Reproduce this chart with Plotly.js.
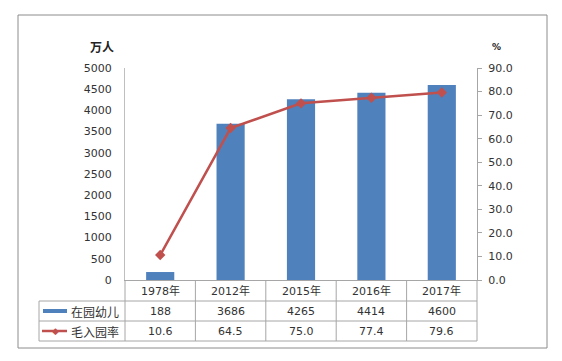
<!DOCTYPE html>
<html>
<head>
<meta charset="utf-8">
<script src="https://cdn.plot.ly/plotly-3.0.1.min.js"></script>
<style>html,body{margin:0;padding:0;background:#fff;}#chart{width:562px;height:361px;}</style>
</head>
<body>
<div id="chart"></div>
<script>
const categories = ["1978年", "2012年", "2015年", "2016年", "2017年"];
const enrolled = [188, 3686, 4265, 4414, 4600];          // 在园幼儿 (万人)
const grossRate = [10.6, 64.5, 75.0, 77.4, 79.6];        // 毛入园率 (%)
const seriesNames = ["在园幼儿", "毛入园率"];
const leftTicks = [0, 500, 1000, 1500, 2000, 2500, 3000, 3500, 4000, 4500, 5000];
const rightTicks = [0, 10, 20, 30, 40, 50, 60, 70, 80, 90];

const W = 562, H = 361;
const L = 125, R = 477, T = 68, B = 280;
const X = px => (px - L) / (R - L);
const Y = py => (B - py) / (B - T);
const FONT = "DejaVu Sans, Noto Sans CJK SC, sans-serif";
const CJK = "Noto Sans CJK SC, DejaVu Sans, sans-serif";
const TXT = "#333333";
const GRID = "#a6a6a6";
const BLUE = "#4F81BD";
const RED = "#C0504D";

const rowCat = [280, 301], row1 = [301, 321], row2 = [321, 341];
const tableLeft = 39;

const shapes = [];
const line = (x0, y0, x1, y1, color, w) => shapes.push({type: 'line', xref: 'paper', yref: 'paper',
  x0: X(x0), y0: Y(y0), x1: X(x1), y1: Y(y1), line: {color: color || GRID, width: w || 1}});

// outer border
shapes.push({type: 'rect', xref: 'paper', yref: 'paper', x0: X(18), y0: Y(15), x1: X(547), y1: Y(348),
  line: {color: '#8c8c8c', width: 1}, fillcolor: 'rgba(0,0,0,0)', layer: 'below'});
// table horizontal lines
line(tableLeft, row1[0], R, row1[0]);
line(tableLeft, row2[0], R, row2[0]);
line(tableLeft, row2[1], R, row2[1]);
// table vertical lines
line(tableLeft, row1[0], tableLeft, row2[1]);
for (let k = 0; k <= categories.length; k++) {
  const px = L + k * (R - L) / categories.length;
  line(px, rowCat[0], px, row2[1]);
}
// legend keys
shapes.push({type: 'rect', xref: 'paper', yref: 'paper', x0: X(43), x1: X(67), y0: Y(309), y1: Y(313),
  fillcolor: BLUE, line: {width: 0}});
line(42, 331, 67, 331, RED, 2.5);

const annotations = [];
const mid = a => (a[0] + a[1]) / 2;
categories.forEach((c, i) => {
  annotations.push({x: c, xref: 'x', y: Y(mid(rowCat)), yref: 'paper', text: c, showarrow: false,
    font: {family: FONT, size: 11, color: TXT}, xanchor: 'center', yanchor: 'middle'});
  annotations.push({x: c, xref: 'x', y: Y(mid(row1)), yref: 'paper', text: String(enrolled[i]), showarrow: false,
    font: {family: FONT, size: 11, color: TXT}, xanchor: 'center', yanchor: 'middle'});
  annotations.push({x: c, xref: 'x', y: Y(mid(row2)), yref: 'paper', text: grossRate[i].toFixed(1), showarrow: false,
    font: {family: FONT, size: 11, color: TXT}, xanchor: 'center', yanchor: 'middle'});
});
annotations.push({x: X(69), xref: 'paper', y: Y(mid(row1)), yref: 'paper', text: seriesNames[0], showarrow: false,
  font: {family: CJK, size: 12, color: TXT}, xanchor: 'left', yanchor: 'middle'});
annotations.push({x: X(69), xref: 'paper', y: Y(mid(row2)), yref: 'paper', text: seriesNames[1], showarrow: false,
  font: {family: CJK, size: 12, color: TXT}, xanchor: 'left', yanchor: 'middle'});
annotations.push({x: X(55), xref: 'paper', y: Y(331), yref: 'paper', text: '◆', showarrow: false,
  font: {family: FONT, size: 9, color: RED}, xanchor: 'center', yanchor: 'middle'});
// axis titles
annotations.push({x: X(102), xref: 'paper', y: Y(47), yref: 'paper', text: '<b>万人</b>', showarrow: false,
  font: {family: CJK, size: 12, color: '#222'}, xanchor: 'center', yanchor: 'middle'});
annotations.push({x: X(496), xref: 'paper', y: Y(47), yref: 'paper', text: '<b>%</b>', showarrow: false,
  font: {family: FONT, size: 9, color: '#222'}, xanchor: 'center', yanchor: 'middle'});

const data = [
  {type: 'bar', x: categories, y: enrolled, name: seriesNames[0], marker: {color: BLUE}, yaxis: 'y', hoverinfo: 'none'},
  {type: 'scatter', mode: 'lines+markers', x: categories, y: grossRate, name: seriesNames[1], yaxis: 'y2',
   line: {color: RED, width: 2.5}, marker: {symbol: 'diamond', size: 8, color: RED}, cliponaxis: false, hoverinfo: 'none'}
];

const layout = {
  width: W, height: H,
  margin: {l: L, r: W - R, t: T, b: H - B, pad: 0},
  paper_bgcolor: '#fff', plot_bgcolor: 'rgba(0,0,0,0)',
  showlegend: false,
  bargap: 0.6,
  font: {family: FONT, size: 11, color: TXT},
  xaxis: {type: 'category', range: [-0.5, categories.length - 0.5], showticklabels: false, ticks: '',
    showline: true, linecolor: GRID, linewidth: 1, showgrid: false, zeroline: false, fixedrange: true},
  yaxis: {range: [0, 5000], tickvals: leftTicks, ticks: '', showline: true, linecolor: '#bfbfbf', linewidth: 1,
    showgrid: false, zeroline: false, ticklabelstandoff: 10, tickfont: {family: FONT, size: 11, color: TXT}},
  yaxis2: {range: [0, 90], tickvals: rightTicks, tickformat: '.1f', overlaying: 'y', side: 'right',
    ticks: 'outside', ticklen: 4, tickcolor: '#a6a6a6', showline: true, linecolor: '#a6a6a6', linewidth: 1,
    showgrid: false, zeroline: false, ticklabelstandoff: 4, tickfont: {family: FONT, size: 11, color: TXT}},
  shapes: shapes,
  annotations: annotations
};

Plotly.newPlot('chart', data, layout, {displayModeBar: false, staticPlot: true});
</script>
</body>
</html>
